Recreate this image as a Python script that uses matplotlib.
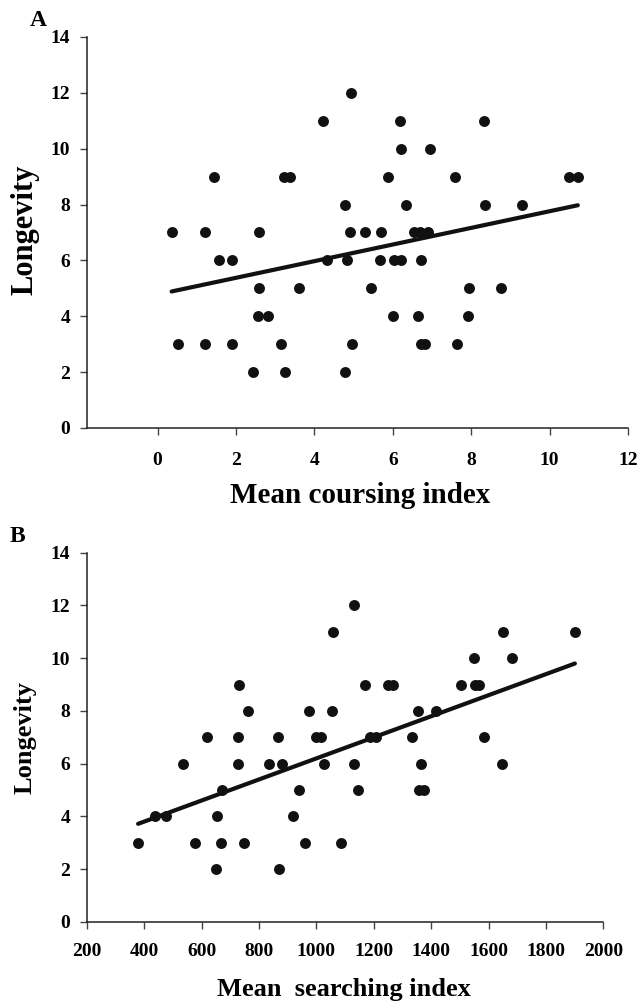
import matplotlib
matplotlib.use("Agg")
import matplotlib.pyplot as plt
import numpy as np

plt.rcParams['font.family'] = ['Liberation Serif', 'DejaVu Serif']
plt.rcParams['font.weight'] = 'bold'

# Panel A: mean coursing index vs longevity
coursing_x = [4.93,
              4.21, 6.19, 8.32,
              6.21, 6.95,
              1.44, 3.22, 3.39, 5.88, 7.58, 10.50, 10.72,
              4.79, 6.33, 8.35, 9.29,
              0.36, 1.22, 2.59, 4.90, 5.30, 5.70, 6.54, 6.69, 6.90,
              1.58, 1.90, 4.33, 4.82, 5.67, 6.04, 6.20, 6.71,
              2.58, 3.60, 5.44, 7.95, 8.75,
              2.56, 2.82, 6.01, 6.65, 7.92,
              0.53, 1.21, 1.90, 3.15, 4.95, 6.72, 6.82, 7.64,
              2.43, 3.25, 4.78]
coursing_y = [12,
              11, 11, 11,
              10, 10,
              9, 9, 9, 9, 9, 9, 9,
              8, 8, 8, 8,
              7, 7, 7, 7, 7, 7, 7, 7, 7,
              6, 6, 6, 6, 6, 6, 6, 6,
              5, 5, 5, 5, 5,
              4, 4, 4, 4, 4,
              3, 3, 3, 3, 3, 3, 3, 3,
              2, 2, 2]
coursing_fit = (0.298, 4.78)  # slope, intercept

# Panel B: mean searching index vs longevity
searching_x = [1131,
               1057, 1649, 1901,
               1549, 1683,
               732, 1169, 1249, 1268, 1505, 1552, 1566,
               761, 973, 1056, 1354, 1417,
               618, 727, 867, 999, 1016, 1187, 1209, 1335, 1584,
               536, 728, 836, 879, 1027, 1131, 1364, 1647,
               673, 940, 1146, 1358, 1375,
               439, 476, 653, 918,
               379, 576, 669, 749, 960, 1087,
               650, 871]
searching_y = [12,
               11, 11, 11,
               10, 10,
               9, 9, 9, 9, 9, 9, 9,
               8, 8, 8, 8, 8,
               7, 7, 7, 7, 7, 7, 7, 7, 7,
               6, 6, 6, 6, 6, 6, 6, 6,
               5, 5, 5, 5, 5,
               4, 4, 4, 4,
               3, 3, 3, 3, 3, 3,
               2, 2]
searching_fit = (0.003996, 2.20)

yticks = [0, 2, 4, 6, 8, 10, 12, 14]

fig = plt.figure(figsize=(6.41, 10.02), dpi=100)
axA = fig.add_axes([0.1357, 0.5729, 0.8440, 0.3902])
axB = fig.add_axes([0.1353, 0.0801, 0.8059, 0.3683])


def style(ax):
    for s in ['top', 'right']:
        ax.spines[s].set_visible(False)
    for s in ['left', 'bottom']:
        ax.spines[s].set_color('#222222')
        ax.spines[s].set_linewidth(1.1)
    ax.tick_params(direction='out', length=5, width=1, color='#444444',
                   labelsize=14)
    ax.set_yticks(yticks)
    ax.set_ylim(0, 14)
    for lbl in ax.get_xticklabels() + ax.get_yticklabels():
        lbl.set_fontweight('bold')


def panel(ax, xs, ys, fit):
    ax.scatter(xs, ys, s=62, color='#111111', zorder=3, linewidths=0)
    xx = np.array([min(xs), max(xs)])
    ax.plot(xx, fit[0] * xx + fit[1], color='#111111', lw=3,
            solid_capstyle='round', zorder=2)


# panel A
panel(axA, coursing_x, coursing_y, coursing_fit)
axA.set_xlim(-1.8, 12)
axA.set_xticks([0, 2, 4, 6, 8, 10, 12])
style(axA)
axA.tick_params(axis='x', pad=12)
axA.tick_params(axis='y', pad=7)
axA.set_xlabel('Mean coursing index', fontsize=21, fontweight='bold')
axA.set_ylabel('Longevity', fontsize=22, fontweight='bold')
axA.xaxis.label.set_va('center')
axA.yaxis.label.set_va('center')
axA.xaxis.set_label_coords(0.505, -0.172)
axA.yaxis.set_label_coords(-0.115, 0.506)

# panel B
panel(axB, searching_x, searching_y, searching_fit)
axB.set_xlim(200, 2000)
axB.set_xticks(range(200, 2001, 200))
style(axB)
axB.tick_params(axis='x', pad=10)
axB.tick_params(axis='y', pad=7)
axB.set_xlabel('Mean  searching index', fontsize=19, fontweight='bold')
axB.set_ylabel('Longevity', fontsize=19, fontweight='bold')
axB.xaxis.label.set_va('center')
axB.yaxis.label.set_va('center')
axB.xaxis.set_label_coords(0.498, -0.183)
axB.yaxis.set_label_coords(-0.119, 0.50)

fig.text(38 / 641, 1 - 20 / 1002, 'A', fontsize=17, fontweight='bold',
         ha='center', va='center')
fig.text(17 / 641, 1 - 537 / 1002, 'B', fontsize=17, fontweight='bold',
         ha='center', va='center')

fig.savefig('out.png', dpi=100)
